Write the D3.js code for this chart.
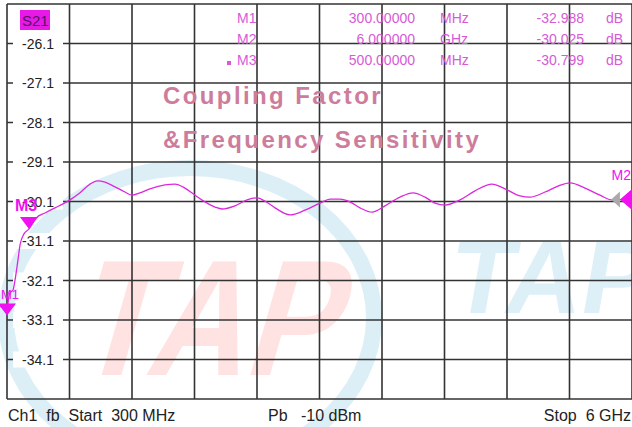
<!DOCTYPE html>
<meta charset="utf-8">
<head>
<style>
body { margin: 0; background: #fff; }
svg text { font-family: "Liberation Sans", Arial, sans-serif; }
</style>
</head>
<body>
<div id="chart"></div>
<script src="https://d3js.org/d3.v7.min.js"></script>
<script>

// trace S21 (GHz, dB)
const freqGHz = [0.300, 0.318, 0.336, 0.355, 0.373, 0.400, 0.419, 0.455, 0.500, 0.565, 0.647, 0.738, 0.811, 0.875,
  0.966, 1.057, 1.121, 1.194, 1.285, 1.376, 1.440, 1.513, 1.604, 1.741, 1.832, 1.923, 2.015, 2.106, 2.197, 2.261,
  2.379, 2.489, 2.580, 2.653, 2.744, 2.881, 3.018, 3.155, 3.246, 3.337, 3.428, 3.519, 3.629, 3.747, 3.884, 4.003,
  4.112, 4.203, 4.295, 4.431, 4.568, 4.723, 4.842, 4.979, 5.070, 5.207, 5.325, 5.435, 5.572, 5.708, 5.818, 6.000];
const s21dB = [-32.988, -32.49, -32.39, -32.34, -32.09, -31.58, -31.20, -30.92, -30.799, -30.52, -30.39, -30.26, -30.16, -30.06,
  -29.88, -29.66, -29.58, -29.61, -29.73, -29.86, -29.94, -29.88, -29.78, -29.68, -29.66, -29.76, -29.94, -30.11, -30.24, -30.29,
  -30.21, -30.06, -30.01, -30.09, -30.26, -30.44, -30.32, -30.14, -30.04, -30.04, -30.11, -30.26, -30.37, -30.21, -29.99, -29.88,
  -29.99, -30.14, -30.19, -30.06, -29.83, -29.66, -29.78, -29.96, -29.99, -29.86, -29.71, -29.63, -29.76, -29.94, -30.06, -30.025];

// markers
const markerNames = ["M1", "M2", "M3"];
const markerFreq = [0.3, 6.0, 0.5];
const markerFreqText = ["300.00000", "6.000000", "500.00000"];
const markerUnit = ["MHz", "GHz", "MHz"];
const markerDb = [-32.988, -30.025, -30.799];

// axis
const yTicks = [-26.1, -27.1, -28.1, -29.1, -30.1, -31.1, -32.1, -33.1, -34.1];
const yTop = -25.1, yBottom = -35.1;
const fStart = 0.3, fStop = 6.0;

const W = 632, H = 427;
const plot = {left: 7, top: 4, right: 632, bottom: 399};

const x = d3.scaleLinear().domain([fStart, fStop]).range([plot.left, plot.right]);
const y = d3.scaleLinear().domain([yBottom, yTop]).range([plot.bottom, plot.top]);

const svg = d3.select("#chart").append("svg")
  .attr("width", W).attr("height", H);

svg.append("defs").append("clipPath").attr("id", "clip")
  .append("rect").attr("x", plot.left).attr("y", plot.top)
  .attr("width", plot.right - plot.left).attr("height", plot.bottom - plot.top);

// watermark logo
const wm = svg.append("g");
wm.append("ellipse")
  .attr("cx", 190).attr("cy", 318).attr("rx", 184).attr("ry", 150)
  .attr("fill", "none").attr("stroke", "rgba(120,195,225,0.26)").attr("stroke-width", 16);
wm.append("text")
  .attr("transform", "translate(70,375) skewX(-16)")
  .attr("font-size", 165).attr("font-weight", "bold")
  .attr("textLength", 262).attr("lengthAdjust", "spacingAndGlyphs")
  .attr("fill", "rgba(255,110,110,0.2)")
  .text("TAP");
wm.append("text")
  .attr("transform", "translate(446,313) skewX(-10)")
  .attr("font-size", 104).attr("font-weight", "bold")
  .attr("fill", "rgba(120,195,225,0.25)")
  .text("TAP");

// grid
const xDivs = d3.range(11).map(i => fStart + i * (fStop - fStart) / 10);
const yDivs = d3.range(11).map(i => yTop - i);
svg.append("g").selectAll("line").data(xDivs).join("line")
  .attr("x1", d => x(d)).attr("x2", d => x(d))
  .attr("y1", plot.top).attr("y2", plot.bottom)
  .attr("stroke", "#333").attr("stroke-width", 1.6);
svg.append("g").selectAll("line").data(yDivs).join("line")
  .attr("x1", plot.left).attr("x2", plot.right)
  .attr("y1", d => y(d)).attr("y2", d => y(d))
  .attr("stroke", "#333").attr("stroke-width", 1.6);

// y labels on white
const yl = svg.append("g").selectAll("g").data(yTicks).join("g");
yl.append("rect")
  .attr("x", plot.left + 6).attr("y", d => y(d) - 8)
  .attr("width", 50).attr("height", 16).attr("fill", "#fff");
yl.append("text")
  .attr("x", 54).attr("y", d => y(d) + 5)
  .attr("text-anchor", "end").attr("font-size", 14).attr("fill", "#222")
  .text(d => d.toFixed(1));

// title text
svg.append("text").attr("x", 163).attr("y", 104)
  .attr("font-size", 24).attr("font-weight", "bold").attr("letter-spacing", 2.4)
  .attr("fill", "rgb(205,125,155)").text("Coupling Factor");
svg.append("text").attr("x", 163).attr("y", 148)
  .attr("font-size", 24).attr("font-weight", "bold").attr("letter-spacing", 2.4)
  .attr("fill", "rgb(205,125,155)").text("&Frequency Sensitivity");

// S21 badge
svg.append("rect").attr("x", 20).attr("y", 10).attr("width", 30).attr("height", 20).attr("fill", "#e619e6");
svg.append("text").attr("x", 22).attr("y", 26).attr("font-size", 15).attr("fill", "#5a1060").text("S21");

// marker table
const mc = "rgb(215,90,215)";
const rows = svg.append("g").selectAll("g").data(markerNames).join("g")
  .attr("transform", (d, i) => `translate(0,${23 + i * 21})`)
  .attr("font-size", 14).attr("fill", mc);
rows.append("text").attr("x", 237).text(d => d);
rows.append("text").attr("x", 415).attr("text-anchor", "end").text((d, i) => markerFreqText[i]);
rows.append("text").attr("x", 440).text((d, i) => markerUnit[i]);
rows.append("text").attr("x", 584).attr("text-anchor", "end").text((d, i) => markerDb[i].toFixed(3));
rows.append("text").attr("x", 606).text("dB");
svg.append("rect").attr("x", 227).attr("y", 61).attr("width", 4).attr("height", 4).attr("fill", mc);

// trace
const pts = freqGHz.map((f, i) => [f, s21dB[i]]);
svg.append("path").datum(pts)
  .attr("clip-path", "url(#clip)")
  .attr("fill", "none").attr("stroke", "rgb(220,40,220)").attr("stroke-width", 1.3)
  .attr("d", d3.line().x(d => x(d[0])).y(d => y(d[1])).curve(d3.curveMonotoneX));

// marker symbols
const mk = "#f010f0";
[0, 2].forEach(i => {
  const px = x(markerFreq[i]), py = y(markerDb[i]);
  svg.append("path")
    .attr("d", `M${px - 9},${py - 12}L${px + 9},${py - 12}L${px},${py}Z`)
    .attr("fill", mk);
});
svg.append("text").attr("x", 15).attr("y", 211).attr("font-size", 16).attr("font-weight", "bold")
  .attr("fill", mk).text("M3");
svg.append("text").attr("x", 1).attr("y", 299).attr("font-size", 13)
  .attr("fill", mk).text("M1");
// M2 at right edge, reference arrow
const m2y = y(markerDb[1]);
svg.append("path").attr("d", `M${x(5.81)},${m2y + 1}L${x(5.89)},${m2y - 7}L${x(5.89)},${m2y + 9}Z`).attr("fill", "#aaa");
svg.append("path").attr("d", `M${x(5.89)},${m2y + 1}L${x(6.0) + 4},${m2y - 13}L${x(6.0) + 4},${m2y + 15}Z`).attr("fill", mk);
svg.append("text").attr("x", 631).attr("y", 180).attr("text-anchor", "end").attr("font-size", 14).attr("fill", mk).text("M2");

// footer (non-breaking spaces keep the gaps)
const nb = s => s.replace(/ /g, "\u00a0");
const foot = svg.append("g").attr("font-size", 16).attr("fill", "#222");
foot.append("text").attr("x", 8).attr("y", 421).text(nb("Ch1  fb  Start  300 MHz"));
foot.append("text").attr("x", 268).attr("y", 421).text(nb("Pb   -10 dBm"));
foot.append("text").attr("x", 631).attr("y", 421).attr("text-anchor", "end").text(nb("Stop  6 GHz"));

</script>
</body>
